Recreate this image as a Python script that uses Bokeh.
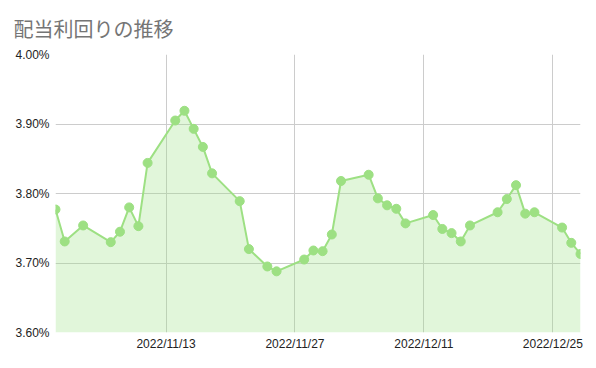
import pandas as pd
from bokeh.plotting import figure
from bokeh.models import FixedTicker, CustomJSTickFormatter, Range1d, ColumnDataSource
from bokeh.embed import file_html
from bokeh.resources import INLINE

title_text = "配当利回りの推移"
dates = ["2022-11-01", "2022-11-02", "2022-11-04", "2022-11-07", "2022-11-08",
         "2022-11-09", "2022-11-10", "2022-11-11", "2022-11-14", "2022-11-15",
         "2022-11-16", "2022-11-17", "2022-11-18", "2022-11-21", "2022-11-22",
         "2022-11-24", "2022-11-25", "2022-11-28", "2022-11-29", "2022-11-30",
         "2022-12-01", "2022-12-02", "2022-12-05", "2022-12-06", "2022-12-07",
         "2022-12-08", "2022-12-09", "2022-12-12", "2022-12-13", "2022-12-14",
         "2022-12-15", "2022-12-16", "2022-12-19", "2022-12-20", "2022-12-21",
         "2022-12-22", "2022-12-23", "2022-12-26", "2022-12-27", "2022-12-28"]
yields = [3.777, 3.731, 3.754, 3.730, 3.745,
          3.780, 3.753, 3.844, 3.905, 3.919,
          3.893, 3.867, 3.829, 3.789, 3.720,
          3.695, 3.688, 3.705, 3.718, 3.717,
          3.741, 3.818, 3.827, 3.793, 3.783,
          3.778, 3.757, 3.769, 3.749, 3.743,
          3.731, 3.754, 3.773, 3.792, 3.812,
          3.771, 3.773, 3.751, 3.729, 3.713]
x_tick_dates = ["2022-11-13", "2022-11-27", "2022-12-11", "2022-12-25"]
y_ticks = [3.60, 3.70, 3.80, 3.90, 4.00]
y_base = 3.60

xd = pd.to_datetime(dates)
src = ColumnDataSource(dict(x=xd, y=yields, base=[y_base] * len(yields)))

p = figure(width=596, height=368, output_backend="svg", toolbar_location=None,
           x_axis_type="datetime",
           min_border_left=55, min_border_right=16, min_border_top=0, min_border_bottom=36,
           title=title_text)
p.x_range = Range1d(xd[0], xd[-1])
p.y_range = Range1d(y_ticks[0], y_ticks[-1])

p.title.text_font = "Noto Sans CJK JP"
p.title.text_font_size = "20px"
p.title.text_font_style = "normal"
p.title.text_color = "#757575"
p.title.offset = -42
p.title.standoff = 23

p.varea(x="x", y1="base", y2="y", source=src, fill_color="#9de083", fill_alpha=0.3)
p.line(x="x", y="y", source=src, line_color="#9de083", line_width=2)
p.scatter(x="x", y="y", source=src, size=9, fill_color="#9de083", line_color="#9de083")

tick_ms = [pd.Timestamp(d).value // 10**6 for d in x_tick_dates]
p.xaxis.ticker = FixedTicker(ticks=tick_ms)
p.xaxis.formatter = CustomJSTickFormatter(code="""
const d = new Date(tick);
const y = d.getUTCFullYear();
const m = String(d.getUTCMonth() + 1).padStart(2, '0');
const dd = String(d.getUTCDate()).padStart(2, '0');
return y + '/' + m + '/' + dd;
""")
p.yaxis.ticker = FixedTicker(ticks=y_ticks)
p.yaxis.formatter = CustomJSTickFormatter(code="return tick.toFixed(2) + '%';")

for ax in (p.xaxis[0], p.yaxis[0]):
    ax.axis_line_color = None
    ax.major_tick_line_color = None
    ax.minor_tick_line_color = None
    ax.major_tick_out = 0
    ax.major_tick_in = 0
    ax.minor_tick_out = 0
    ax.major_label_text_font = "Arial"
    ax.major_label_text_font_size = "12px"
    ax.major_label_text_color = "#222222"
p.yaxis.major_label_standoff = 6
p.xaxis.major_label_standoff = 4

p.xgrid.grid_line_color = "#cccccc"
p.ygrid.grid_line_color = "#cccccc"
p.outline_line_color = None
p.background_fill_color = "white"
p.border_fill_color = "white"

open("out.html", "w").write(file_html(p, INLINE))
